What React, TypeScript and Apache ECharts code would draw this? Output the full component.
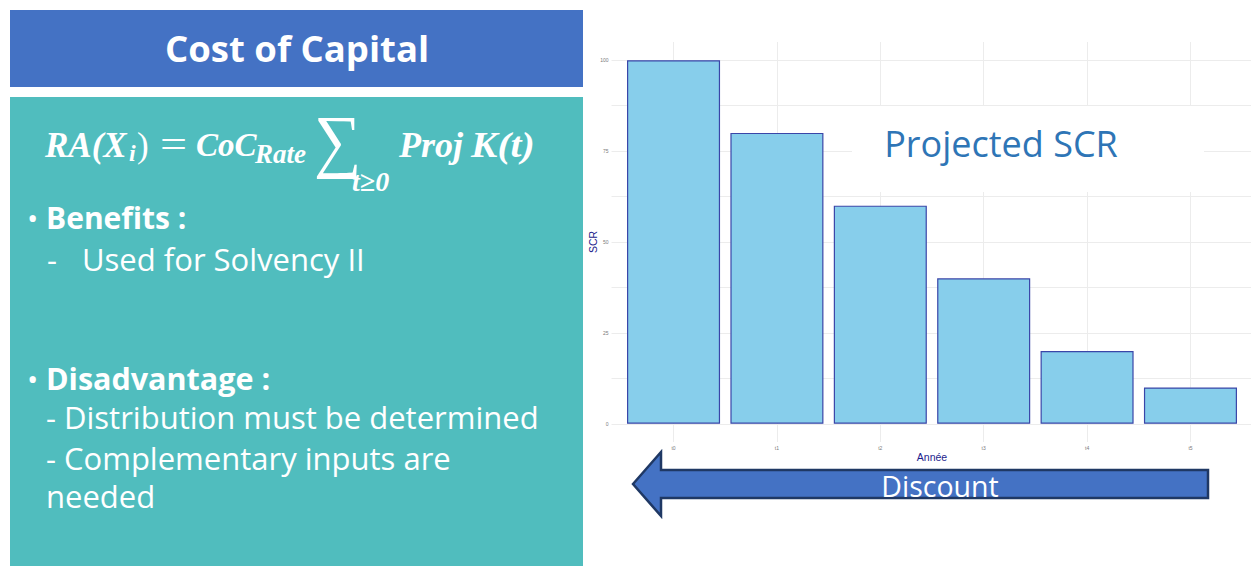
import React, { useEffect, useRef } from "react";
import * as echarts from "echarts";

const categories = ["t0", "t1", "t2", "t3", "t4", "t5"];
const scrValues = [100, 80, 60, 40, 20, 10];
const yTickValues = [0, 25, 50, 75, 100];
const yGridValues = [0, 12.5, 25, 37.5, 50, 62.5, 75, 87.5, 100];
const xTickValues = [0, 1, 2, 3, 4, 5];

const WHITE = "#ffffff";
const F = "'Open Sans', 'Noto Sans', sans-serif";
const MATH = "'Liberation Serif', 'DejaVu Serif', serif";

function txt(text: string, x: number, y: number, size: number, opts: any = {}) {
  return {
    type: "text",
    x,
    y,
    z: 10,
    scaleX: opts.scaleX || 1,
    scaleY: opts.scaleY || 1,
    style: {
      text,
      fill: opts.fill || WHITE,
      font: `${opts.style || "normal"} ${opts.weight || "normal"} ${size}px ${opts.family || F}`,
      textAlign: opts.align || "left",
      textVerticalAlign: opts.vAlign || "middle",
    },
  };
}

export default function App() {
  const ref = useRef<HTMLDivElement>(null);
  useEffect(() => {
    if (!ref.current) return;
    const chart = echarts.init(ref.current, undefined, { renderer: "svg" });
    const mathOpts = { style: "italic", weight: "bold", family: MATH };
    const option: any = {
      animation: false,
      backgroundColor: "#ffffff",
      grid: {
        left: 611.5,
        top: 42,
        width: 641,
        height: 400,
        containLabel: false,
        outerBoundsMode: "none",
      },
      xAxis: {
        type: "value",
        min: -0.6,
        max: 5.6,
        name: "Année",
        nameLocation: "middle",
        nameGap: 9,
        nameMoveOverlap: false,
        nameTextStyle: { color: "#1c1c8c", fontSize: 10.5, fontFamily: "Liberation Sans, Arial, sans-serif" },
        axisLine: { show: false },
        axisTick: { show: false, customValues: xTickValues },
        axisLabel: {
          customValues: xTickValues,
          formatter: (v: number) => categories[Math.round(v)] ?? "",
          fontSize: 5,
          color: "#7a7a7a",
          margin: 3,
        },
        splitLine: { show: true, lineStyle: { color: "#ececec", width: 1 } },
      },
      yAxis: {
        type: "value",
        min: -5,
        max: 105,
        name: "SCR",
        nameLocation: "middle",
        nameGap: 13,
        nameMoveOverlap: false,
        nameRotate: 90,
        nameTextStyle: { color: "#1c1c8c", fontSize: 10.5, fontFamily: "Liberation Sans, Arial, sans-serif" },
        axisLine: { show: false },
        axisTick: { show: false, customValues: yGridValues },
        axisLabel: {
          customValues: yTickValues,
          fontSize: 5,
          color: "#7a7a7a",
          margin: 3,
        },
        splitLine: { show: true, lineStyle: { color: "#ececec", width: 1 } },
      },
      series: [
        {
          type: "bar",
          data: scrValues.map((v, i) => [i, v]),
          barWidth: "90%",
          itemStyle: { color: "#87CEEB", borderColor: "#3a46a8", borderWidth: 1.2 },
        },
      ],
      graphic: [
        // left title box
        { type: "rect", shape: { x: 10, y: 10, width: 573, height: 77 }, style: { fill: "#4472C4" }, z: 5 },
        txt("Cost of Capital", 297, 48, 36.5, { weight: "bold", align: "center" }),
        // teal panel
        { type: "rect", shape: { x: 10, y: 97, width: 573, height: 480 }, style: { fill: "#50BDBE" }, z: 5 },
        // formula
        txt("RA(X", 45, 145, 35, mathOpts),
        txt("i", 129, 153, 24, mathOpts),
        txt(")", 137, 145, 35, { family: MATH }),
        txt("=", 160, 145, 40, { family: MATH, scaleX: 1.2 }),
        txt("CoC", 196, 145, 33, mathOpts),
        txt("Rate", 255, 154, 27, mathOpts),
        txt("\u2211", 314, 140, 70, { family: MATH, scaleX: 0.95 }),
        txt("t\u22650", 352, 181, 28, mathOpts),
        txt("Proj", 399, 145, 36, mathOpts),
        txt("K(t)", 471, 145, 36, { ...mathOpts, scaleX: 1.1 }),
        // bullets
        txt("\u2022", 27, 217, 30),
        txt("Benefits :", 46, 217, 30, { weight: "bold" }),
        txt("-", 47, 259, 31),
        txt("Used for Solvency II", 82, 259, 31),
        txt("\u2022", 27, 378, 30),
        txt("Disadvantage :", 46, 378, 30.5, { weight: "bold" }),
        txt("- Distribution must be determined", 46, 417, 31),
        txt("- Complementary inputs are", 46, 458, 31),
        txt("needed", 46, 496, 31),
        // projected SCR label
        { type: "rect", shape: { x: 852, y: 106, width: 352, height: 86 }, style: { fill: "#ffffff" }, z: 6 },
        txt("Projected SCR", 1001, 143, 36, { fill: "#2E75B6", align: "center" }),
        // discount arrow
        {
          type: "polygon",
          z: 8,
          shape: {
            points: [
              [633, 484],
              [661, 452],
              [661, 470],
              [1208, 470],
              [1208, 498],
              [661, 498],
              [661, 516],
            ],
          },
          style: { fill: "#4472C4", stroke: "#1F3864", lineWidth: 2.5 },
        },
        txt("Discount", 940, 486, 28.5, { align: "center" }),
      ],
    };
    chart.setOption(option);
    return () => chart.dispose();
  }, []);
  return (
    <div
      ref={ref}
      style={{ position: "fixed", left: 0, top: 0, width: 1251, height: 566 }}
    />
  );
}
